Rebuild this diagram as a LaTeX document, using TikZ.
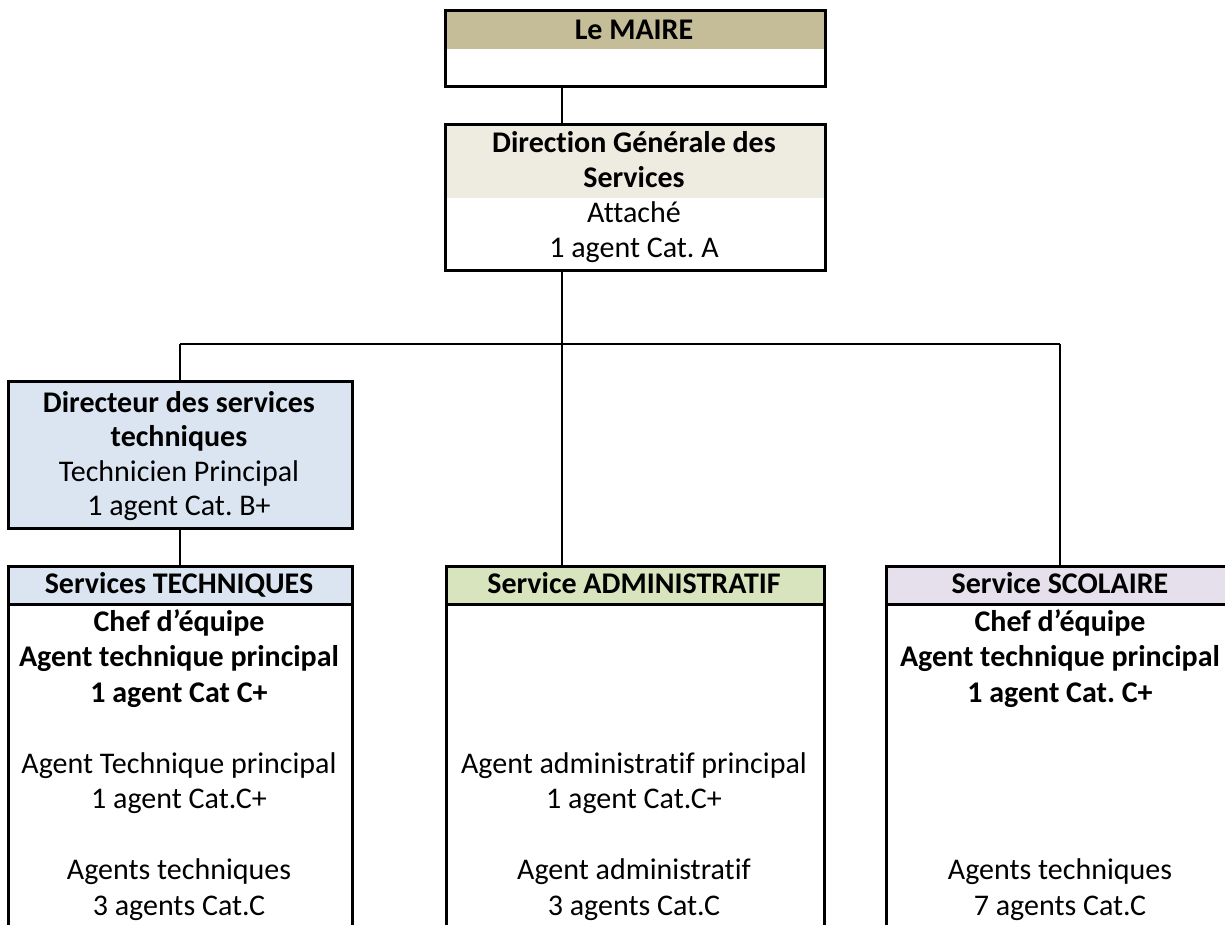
\documentclass[tikz,border=0pt]{standalone}
\usepackage{fontspec}
\setmainfont{Carlito}[Ligatures=NoCommon]
\usetikzlibrary{calc}
\definecolor{tanhd}{HTML}{C4BD97}
\definecolor{tanlt}{HTML}{EEECE1}
\definecolor{bluelt}{HTML}{DBE5F1}
\definecolor{greenlt}{HTML}{D7E4BD}
\definecolor{purplelt}{HTML}{E5E0EC}
\frenchspacing
\begin{document}
\begin{tikzpicture}[x=1pt,y=-1pt,
  box/.style={draw=black, line width=3pt, rectangle, inner sep=0pt, anchor=north west},
  hdr/.style 2 args={path picture={\fill[#1] (path picture bounding box.north west) rectangle ([yshift=-#2]path picture bounding box.north east);}},
  conn/.style={draw=black, line width=1.6pt},
  tx/.style={anchor=base, inner sep=0pt, font=\fontsize{30}{36}\selectfont},
  tb/.style={anchor=base, inner sep=0pt, font=\fontsize{30}{36}\selectfont\bfseries},
]
\useasboundingbox (0,0) rectangle (1225,925);
\clip (0,0) rectangle (1225,925);

% boxes
\node[box, minimum width=380pt, minimum height=76pt, hdr={tanhd}{39pt}] (maire) at (444,9) {};
\node[box, minimum width=380pt, minimum height=146pt, hdr={tanlt}{74pt}] (dgs) at (444,123) {};
\node[box, fill=bluelt, minimum width=344pt, minimum height=147pt] (dir) at (7,380) {};

\node[box, fill=bluelt, minimum width=344pt, minimum height=38pt] (techh) at (7,565) {};
\node[box, minimum width=344pt, minimum height=380pt] (techb) at (7,603) {};
\node[box, fill=greenlt, minimum width=378pt, minimum height=38pt] (admh) at (445,565) {};
\node[box, minimum width=378pt, minimum height=380pt] (admb) at (445,603) {};
\node[box, fill=purplelt, minimum width=350pt, minimum height=38pt] (scoh) at (885,565) {};
\node[box, minimum width=350pt, minimum height=380pt] (scob) at (885,603) {};

% connectors
\coordinate (j) at (562,344);
\coordinate (jl) at (180,344);
\coordinate (jr) at (1060,344);
\draw[conn] (maire.south -| j) -- (dgs.north -| j);
\draw[conn] (dgs.south -| j) -- (admh.north -| j);
\draw[conn] (jl) -- (jr);
\draw[conn] (jl) -- (dir.north -| jl);
\draw[conn] (dir.south -| jl) -- (techh.north -| jl);
\draw[conn] (jr) -- (scoh.north -| jr);

% texts
\node[tb] (m1) at (634,40) {Le MAIRE};
\node[tb] (g1) at (634,153) {Direction Générale des};
\node[tb] (g2) at (634,188) {Services};
\node[tx] (g3) at (634,223) {Attaché};
\node[tx] (g4) at (634,258) {1 agent Cat. A};

\node[tb] (d1) at (179,412) {Directeur des services};
\node[tb] (d2) at (179,446.5) {techniques};
\node[tx] (d3) at (179,481) {Technicien Principal};
\node[tx] (d4) at (179,515.5) {1 agent Cat. B+};

\node[tb] (th) at (179,593) {Services TECHNIQUES};
\node[tb] (ah) at (634,593) {Service ADMINISTRATIF};
\node[tb] (sh) at (1060,593) {Service SCOLAIRE};

\node[tb] (t1) at (179,631) {Chef d’équipe};
\node[tb] (t2) at (179,666.5) {Agent technique principal};
\node[tb] (t3) at (179,702) {1 agent Cat C+};
\node[tx] (t4) at (179,773) {Agent Technique principal};
\node[tx] (t5) at (179,808.5) {1 agent Cat.C+};
\node[tx] (t6) at (179,879.5) {Agents techniques};
\node[tx] (t7) at (179,915) {3 agents Cat.C};

\node[tx] (a4) at (634,773) {Agent administratif principal};
\node[tx] (a5) at (634,808.5) {1 agent Cat.C+};
\node[tx] (a6) at (634,879.5) {Agent administratif};
\node[tx] (a7) at (634,915) {3 agents Cat.C};

\node[tb] (s1) at (1060,631) {Chef d’équipe};
\node[tb] (s2) at (1060,666.5) {Agent technique principal};
\node[tb] (s3) at (1060,702) {1 agent Cat. C+};
\node[tx] (s6) at (1060,879.5) {Agents techniques};
\node[tx] (s7) at (1060,915) {7 agents Cat.C};
\end{tikzpicture}
\end{document}
